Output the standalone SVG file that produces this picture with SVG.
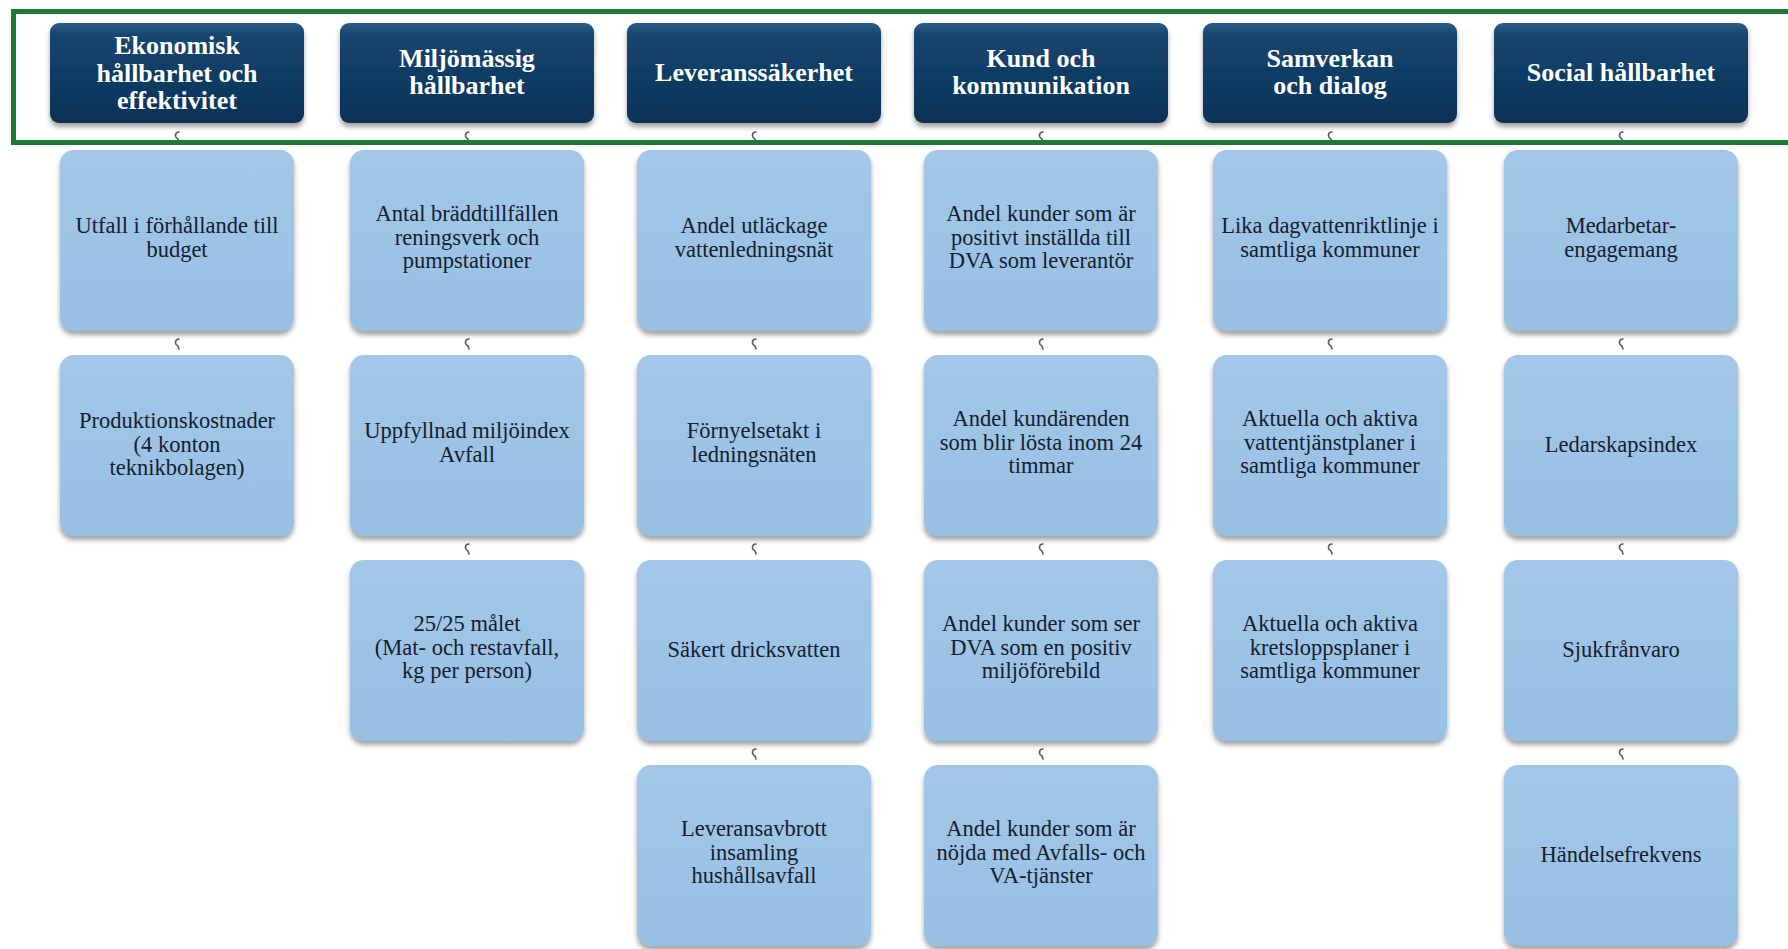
<svg xmlns="http://www.w3.org/2000/svg" width="1788" height="949" viewBox="0 0 1788 949">
<defs>
<linearGradient id="hdrGrad" x1="0" y1="0" x2="0" y2="1">
<stop offset="0" stop-color="#2b5b88"/>
<stop offset="0.12" stop-color="#15466f"/>
<stop offset="1" stop-color="#0b3257"/>
</linearGradient>
<linearGradient id="boxGrad" x1="0" y1="0" x2="0" y2="1">
<stop offset="0" stop-color="#a2c7e8"/>
<stop offset="1" stop-color="#98c0e3"/>
</linearGradient>
<filter id="shadow" x="-10%" y="-10%" width="120%" height="125%">
<feDropShadow dx="0" dy="4" stdDeviation="2.5" flood-color="#555" flood-opacity="0.55"/>
</filter>
<style>
.hdr{fill:url(#hdrGrad);filter:url(#shadow);}
.box{fill:url(#boxGrad);filter:url(#shadow);}
.ht{font-family:"Liberation Serif",serif;font-weight:bold;font-size:26px;fill:#ffffff;text-anchor:middle;}
.bt{font-family:"Liberation Serif",serif;font-size:22.5px;fill:#14202e;text-anchor:middle;}
.con{fill:none;stroke:#5a5f66;stroke-width:1.6;stroke-linecap:round;}
.frame{fill:none;stroke:#1f7a38;stroke-width:5;}
</style>
</defs>
<rect width="1788" height="949" fill="#ffffff"/>

<g id="connectors">
<path class="con" d="M179,132 c-4,0 -5,5 -1,7 l1,3"/>
<path class="con" d="M469,132 c-4,0 -5,5 -1,7 l1,3"/>
<path class="con" d="M756,132 c-4,0 -5,5 -1,7 l1,3"/>
<path class="con" d="M1043,132 c-4,0 -5,5 -1,7 l1,3"/>
<path class="con" d="M1332,132 c-4,0 -5,5 -1,7 l1,3"/>
<path class="con" d="M1623,132 c-4,0 -5,5 -1,7 l1,3"/>
<path class="con" d="M179,339 c-4,0 -5,5 -1,7 l1,3"/>
<path class="con" d="M469,339 c-4,0 -5,5 -1,7 l1,3"/>
<path class="con" d="M756,339 c-4,0 -5,5 -1,7 l1,3"/>
<path class="con" d="M1043,339 c-4,0 -5,5 -1,7 l1,3"/>
<path class="con" d="M1332,339 c-4,0 -5,5 -1,7 l1,3"/>
<path class="con" d="M1623,339 c-4,0 -5,5 -1,7 l1,3"/>
<path class="con" d="M469,544 c-4,0 -5,5 -1,7 l1,3"/>
<path class="con" d="M756,544 c-4,0 -5,5 -1,7 l1,3"/>
<path class="con" d="M1043,544 c-4,0 -5,5 -1,7 l1,3"/>
<path class="con" d="M1332,544 c-4,0 -5,5 -1,7 l1,3"/>
<path class="con" d="M1623,544 c-4,0 -5,5 -1,7 l1,3"/>
<path class="con" d="M756,749 c-4,0 -5,5 -1,7 l1,3"/>
<path class="con" d="M1043,749 c-4,0 -5,5 -1,7 l1,3"/>
<path class="con" d="M1623,749 c-4,0 -5,5 -1,7 l1,3"/>
</g>

<!-- Headers -->
<g id="h1"><rect class="hdr" x="50" y="23" width="254" height="100" rx="9"/>
<text class="ht" x="177" y="54">Ekonomisk</text><text class="ht" x="177" y="81.5">hållbarhet och</text><text class="ht" x="177" y="109">effektivitet</text></g>
<g id="h2"><rect class="hdr" x="340" y="23" width="254" height="100" rx="9"/>
<text class="ht" x="467" y="67">Miljömässig</text><text class="ht" x="467" y="94">hållbarhet</text></g>
<g id="h3"><rect class="hdr" x="627" y="23" width="254" height="100" rx="9"/>
<text class="ht" x="754" y="81">Leveranssäkerhet</text></g>
<g id="h4"><rect class="hdr" x="914" y="23" width="254" height="100" rx="9"/>
<text class="ht" x="1041" y="67">Kund och</text><text class="ht" x="1041" y="94">kommunikation</text></g>
<g id="h5"><rect class="hdr" x="1203" y="23" width="254" height="100" rx="9"/>
<text class="ht" x="1330" y="67">Samverkan</text><text class="ht" x="1330" y="94">och dialog</text></g>
<g id="h6"><rect class="hdr" x="1494" y="23" width="254" height="100" rx="9"/>
<text class="ht" x="1621" y="81">Social hållbarhet</text></g>

<!-- Column 1 -->
<g id="c1r1"><rect class="box" x="60" y="150" width="234" height="181" rx="14"/>
<text class="bt" x="177" y="233">Utfall i förhållande till</text><text class="bt" x="177" y="256.5">budget</text></g>
<g id="c1r2"><rect class="box" x="60" y="355" width="234" height="181" rx="14"/>
<text class="bt" x="177" y="428">Produktionskostnader</text><text class="bt" x="177" y="451.5">(4 konton</text><text class="bt" x="177" y="475">teknikbolagen)</text></g>

<!-- Column 2 -->
<g id="c2r1"><rect class="box" x="350" y="150" width="234" height="181" rx="14"/>
<text class="bt" x="467" y="221">Antal bräddtillfällen</text><text class="bt" x="467" y="244.5">reningsverk och</text><text class="bt" x="467" y="268">pumpstationer</text></g>
<g id="c2r2"><rect class="box" x="350" y="355" width="234" height="181" rx="14"/>
<text class="bt" x="467" y="438">Uppfyllnad miljöindex</text><text class="bt" x="467" y="461.5">Avfall</text></g>
<g id="c2r3"><rect class="box" x="350" y="560" width="234" height="181" rx="14"/>
<text class="bt" x="467" y="631">25/25 målet</text><text class="bt" x="467" y="654.5">(Mat- och restavfall,</text><text class="bt" x="467" y="678">kg per person)</text></g>

<!-- Column 3 -->
<g id="c3r1"><rect class="box" x="637" y="150" width="234" height="181" rx="14"/>
<text class="bt" x="754" y="233">Andel utläckage</text><text class="bt" x="754" y="256.5">vattenledningsnät</text></g>
<g id="c3r2"><rect class="box" x="637" y="355" width="234" height="181" rx="14"/>
<text class="bt" x="754" y="438">Förnyelsetakt i</text><text class="bt" x="754" y="461.5">ledningsnäten</text></g>
<g id="c3r3"><rect class="box" x="637" y="560" width="234" height="181" rx="14"/>
<text class="bt" x="754" y="657">Säkert dricksvatten</text></g>
<g id="c3r4"><rect class="box" x="637" y="765" width="234" height="181" rx="14"/>
<text class="bt" x="754" y="836">Leveransavbrott</text><text class="bt" x="754" y="859.5">insamling</text><text class="bt" x="754" y="883">hushållsavfall</text></g>

<!-- Column 4 -->
<g id="c4r1"><rect class="box" x="924" y="150" width="234" height="181" rx="14"/>
<text class="bt" x="1041" y="221">Andel kunder som är</text><text class="bt" x="1041" y="244.5">positivt inställda till</text><text class="bt" x="1041" y="268">DVA som leverantör</text></g>
<g id="c4r2"><rect class="box" x="924" y="355" width="234" height="181" rx="14"/>
<text class="bt" x="1041" y="426">Andel kundärenden</text><text class="bt" x="1041" y="449.5">som blir lösta inom 24</text><text class="bt" x="1041" y="473">timmar</text></g>
<g id="c4r3"><rect class="box" x="924" y="560" width="234" height="181" rx="14"/>
<text class="bt" x="1041" y="631">Andel kunder som ser</text><text class="bt" x="1041" y="654.5">DVA som en positiv</text><text class="bt" x="1041" y="678">miljöförebild</text></g>
<g id="c4r4"><rect class="box" x="924" y="765" width="234" height="181" rx="14"/>
<text class="bt" x="1041" y="836">Andel kunder som är</text><text class="bt" x="1041" y="859.5">nöjda med Avfalls- och</text><text class="bt" x="1041" y="883">VA-tjänster</text></g>

<!-- Column 5 -->
<g id="c5r1"><rect class="box" x="1213" y="150" width="234" height="181" rx="14"/>
<text class="bt" x="1330" y="233">Lika dagvattenriktlinje i</text><text class="bt" x="1330" y="256.5">samtliga kommuner</text></g>
<g id="c5r2"><rect class="box" x="1213" y="355" width="234" height="181" rx="14"/>
<text class="bt" x="1330" y="426">Aktuella och aktiva</text><text class="bt" x="1330" y="449.5">vattentjänstplaner i</text><text class="bt" x="1330" y="473">samtliga kommuner</text></g>
<g id="c5r3"><rect class="box" x="1213" y="560" width="234" height="181" rx="14"/>
<text class="bt" x="1330" y="631">Aktuella och aktiva</text><text class="bt" x="1330" y="654.5">kretsloppsplaner i</text><text class="bt" x="1330" y="678">samtliga kommuner</text></g>

<!-- Column 6 -->
<g id="c6r1"><rect class="box" x="1504" y="150" width="234" height="181" rx="14"/>
<text class="bt" x="1621" y="233">Medarbetar-</text><text class="bt" x="1621" y="256.5">engagemang</text></g>
<g id="c6r2"><rect class="box" x="1504" y="355" width="234" height="181" rx="14"/>
<text class="bt" x="1621" y="452">Ledarskapsindex</text></g>
<g id="c6r3"><rect class="box" x="1504" y="560" width="234" height="181" rx="14"/>
<text class="bt" x="1621" y="657">Sjukfrånvaro</text></g>
<g id="c6r4"><rect class="box" x="1504" y="765" width="234" height="181" rx="14"/>
<text class="bt" x="1621" y="862">Händelsefrekvens</text></g>

<rect class="frame" x="13.5" y="11.5" width="1790" height="131"/>
</svg>
